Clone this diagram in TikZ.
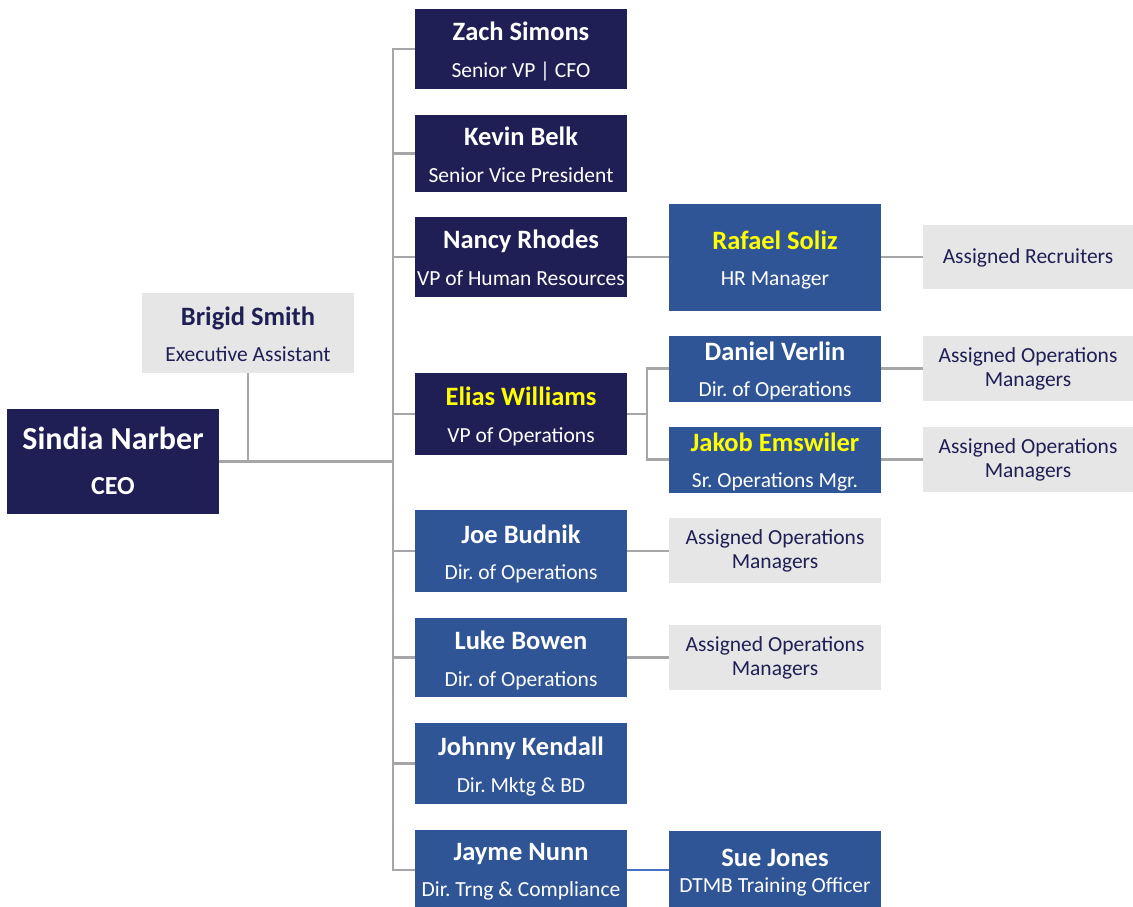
\documentclass[tikz,border=0pt]{standalone}
\usepackage{fontspec}
\setmainfont{Carlito}
\frenchspacing
\definecolor{navy}{HTML}{1F1F55}
\definecolor{midblue}{HTML}{2F5597}
\definecolor{paleg}{HTML}{E7E6E6}
\definecolor{linegray}{HTML}{A6A6A6}
\definecolor{linkblue}{HTML}{4472C4}
\definecolor{hiyellow}{HTML}{FFFF00}
\newcommand\pname[1]{{\fontsize{26.5}{37}\selectfont\bfseries\rule{0pt}{25pt}#1}}
\newcommand\ptitle[1]{{#1\rule[-5pt]{0pt}{5pt}}}
\newcommand\yel[1]{\textcolor{hiyellow}{#1}}
\newcommand\opstext{\rule{0pt}{17pt}Assigned Operations\\Managers\rule[-5pt]{0pt}{5pt}}
\tikzset{
  box/.style={rectangle, inner sep=0pt, minimum width=212pt, align=center, font=\fontsize{21.5}{37}\selectfont},
  navybox/.style={box, fill=navy, text=white},
  bluebox/.style={box, fill=midblue, text=white},
  graybox/.style={box, fill=paleg, text=navy},
  opsbox/.style={graybox, minimum width=210pt, minimum height=65pt, font=\fontsize{21.5}{24}\selectfont},
  conn/.style={draw=linegray, line width=2.8pt},
  bluelink/.style={draw=linkblue, line width=2pt},
}
\begin{document}
\begin{tikzpicture}[x=1pt,y=-1pt]
\useasboundingbox (0,0) rectangle (1133,907);
% coordinates of trunks
\coordinate (trunk) at (393,0);
\coordinate (subtrunk) at (647,0);
% boxes
\node[navybox, minimum height=105pt, font=\fontsize{26}{45}\selectfont] (ceo) at (113,461.5)
  {{\fontsize{32}{45}\selectfont\bfseries\rule{0pt}{26pt}Sindia Narber}\\{\bfseries CEO\rule[-5pt]{0pt}{5pt}}};
\node[graybox, minimum height=80pt, font=\fontsize{21.5}{36}\selectfont] (brigid) at (248,333)
  {\pname{Brigid Smith}\\\ptitle{Executive Assistant}};
\node[navybox, minimum height=80pt] (zach) at (521,49) {\pname{Zach Simons}\\\ptitle{Senior VP | CFO}};
\node[navybox, minimum height=77pt] (kevin) at (521,153.5) {\pname{Kevin Belk}\\\ptitle{Senior Vice President}};
\node[navybox, minimum height=80pt] (nancy) at (521,257) {\pname{Nancy Rhodes}\\\ptitle{VP of Human Resources}};
\node[navybox, minimum height=82pt] (elias) at (521,414) {\pname{\yel{Elias Williams}}\\\ptitle{VP of Operations}};
\node[bluebox, minimum height=82pt, font=\fontsize{21.5}{36}\selectfont] (joe) at (521,551) {\pname{Joe Budnik}\\\ptitle{Dir. of Operations}};
\node[bluebox, minimum height=79pt] (luke) at (521,657.5) {\pname{Luke Bowen}\\\ptitle{Dir. of Operations}};
\node[bluebox, minimum height=81pt] (johnny) at (521,763.5) {\pname{Johnny Kendall}\\\ptitle{Dir. Mktg \& BD}};
\node[bluebox, minimum height=77pt, font=\fontsize{21.5}{36}\selectfont] (jayme) at (521,868.5) {\pname{Jayme Nunn}\\\ptitle{Dir. Trng \& Compliance}};
\node[bluebox, minimum height=107pt, font=\fontsize{21.5}{36}\selectfont] (rafael) at (775,257.5) {\pname{\yel{Rafael Soliz}}\\\ptitle{HR Manager}};
\node[bluebox, minimum height=65pt, font=\fontsize{21.5}{36}\selectfont] (daniel) at (775,368.5) {\pname{Daniel Verlin}\\\ptitle{Dir. of Operations}};
\node[bluebox, minimum height=65pt, font=\fontsize{21.5}{36}\selectfont] (jakob) at (775,459.5) {\pname{\yel{Jakob Emswiler}}\\\ptitle{Sr. Operations Mgr.}};
\node[opsbox, minimum width=212pt] (opsjoe) at (775,550.5) {\opstext};
\node[opsbox, minimum width=212pt] (opsluke) at (775,657.5) {\opstext};
\node[bluebox, minimum height=76pt, font=\fontsize{21.5}{26}\selectfont] (sue) at (775,869) {\pname{Sue Jones}\\\ptitle{DTMB Training Officer}};
\node[opsbox, minimum height=64pt] (recruiters) at (1028,257)
  {\rule{0pt}{17pt}Assigned Recruiters\rule[-5pt]{0pt}{5pt}};
\node[opsbox] (opsdaniel) at (1028,368.5) {\opstext};
\node[opsbox] (opsjakob) at (1028,459.5) {\opstext};
% connectors
\draw[conn] (brigid.south) -- (brigid.south |- ceo.east);
\draw[conn] (ceo.east) -- (ceo.east -| trunk);
\draw[conn] (zach.west) -- (zach.west -| trunk) -- ([yshift=-1.5pt]jayme.west -| trunk) -- ([yshift=-1.5pt]jayme.west);
\foreach \b in {kevin,nancy,elias,joe,luke,johnny}
  \draw[conn] (\b.west) -- (\b.west -| trunk);
\draw[conn] (nancy.east) -- (nancy.east -| rafael.west);
\draw[conn] (rafael.east |- recruiters.west) -- (recruiters.west);
\draw[conn] (elias.east) -- (elias.east -| subtrunk);
\draw[conn] (daniel.west) -- (daniel.west -| subtrunk) -- (jakob.west -| subtrunk) -- (jakob.west);
\draw[conn] (daniel.east) -- (opsdaniel.west);
\draw[conn] (jakob.east) -- (opsjakob.west);
\draw[conn] (joe.east) -- (joe.east -| opsjoe.west);
\draw[conn] (luke.east) -- (opsluke.west);
\draw[bluelink] ([yshift=-1.5pt]jayme.east) -- ([yshift=-1.5pt]jayme.east -| sue.west);
\end{tikzpicture}
\end{document}
